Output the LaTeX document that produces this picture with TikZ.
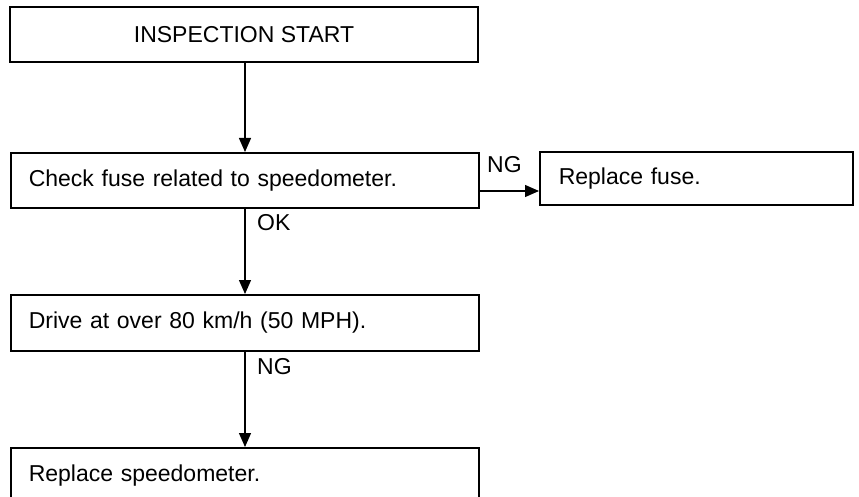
\documentclass[tikz,border=0pt]{standalone}
\usepackage{fontspec}
\setmainfont{Liberation Sans}
\usetikzlibrary{arrows.meta}
\begin{document}
\begin{tikzpicture}[x=1pt,y=-1pt,
  every node/.style={font=\fontsize{23}{27}\selectfont},
  stepbox/.style={draw, line width=1.6pt, rectangle, anchor=north west,
    inner xsep=18pt, inner ysep=0pt, text width=432pt, align=left, minimum height=55pt},
  arr/.style={line width=1.3pt, -{Triangle[length=14pt,width=12pt]}},
  lbl/.style={anchor=west, inner sep=0pt}]
\useasboundingbox (0,0) rectangle (859,497);
\clip (0,0) rectangle (859,497);
\node[draw, line width=1.6pt, minimum width=468pt, minimum height=55pt, inner sep=0pt] (start) at (244,34.5) {INSPECTION START};
\node[stepbox] (fuse) at (10,152) {Check fuse related to speedometer.};
\node[stepbox, inner xsep=19pt, text width=275pt, minimum height=53pt] (fix) at (539,151) {Replace fuse.};
\node[stepbox, minimum height=56pt] (drive) at (10,294) {Drive at over 80 km/h (50 MPH).};
\node[stepbox] (speedo) at (10,447) {Replace speedometer.};
\coordinate (trunk) at (245,0);
\coordinate (ngy) at (0,191);
\draw[arr] (start.south -| trunk) -- (fuse.north -| trunk);
\draw[arr] (fuse.east |- ngy) -- (fix.west |- ngy);
\draw[arr] (fuse.south -| trunk) -- (drive.north -| trunk);
\draw[arr] (drive.south -| trunk) -- (speedo.north -| trunk);
\node[lbl] (ng1) at (487,165) {NG};
\node[lbl] (ok) at (257,223) {OK};
\node[lbl] (ng2) at (257,367) {NG};
\end{tikzpicture}
\end{document}
